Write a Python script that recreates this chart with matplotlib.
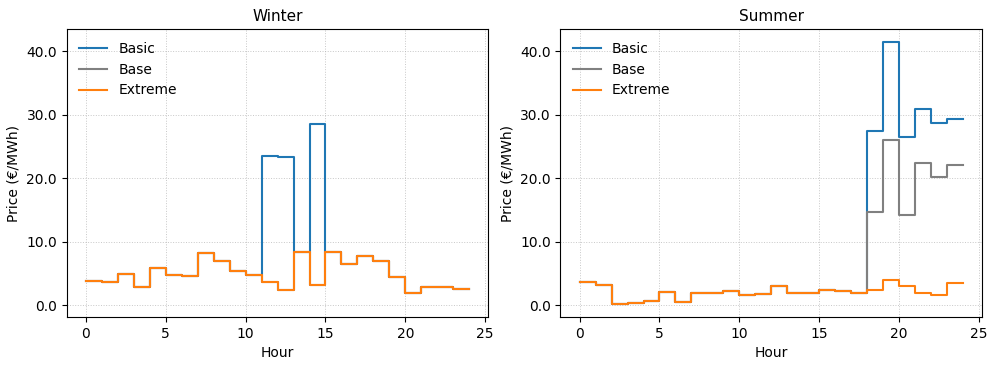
import matplotlib.pyplot as plt

hours = list(range(25))

winter_extreme = [3.77, 3.66, 4.97, 2.93, 5.81, 4.82, 4.61, 8.22, 6.96, 5.39, 4.71, 3.61,
                  2.36, 8.38, 3.19, 8.43, 6.49, 7.80, 7.02, 4.45, 1.94, 2.93, 2.93, 2.57]
winter_base = list(winter_extreme)
winter_basic = list(winter_extreme)
winter_basic[11] = 23.56
winter_basic[12] = 23.35
winter_basic[14] = 28.53

summer_extreme = [3.72, 3.20, 0.16, 0.31, 0.73, 2.04, 0.47, 1.94, 1.94, 2.20, 1.63, 1.83,
                  3.09, 1.94, 1.89, 2.41, 2.20, 1.89, 2.46, 4.04, 2.99, 1.94, 1.63, 3.46]
summer_base = summer_extreme[:18] + [14.63, 26.05, 14.15, 22.39, 20.18, 22.07]
summer_basic = summer_extreme[:18] + [27.52, 41.47, 26.47, 30.98, 28.73, 29.36]

seasons = [("Winter", winter_basic, winter_base, winter_extreme),
           ("Summer", summer_basic, summer_base, summer_extreme)]

def step(ax, vals, **kw):
    ax.step(hours, vals + [vals[-1]], where='post', linewidth=1.5, **kw)

fig, axes = plt.subplots(1, 2, figsize=(9.97, 3.68), dpi=100, sharey=True)
for ax, (title, basic, base, extreme) in zip(axes, seasons):
    step(ax, basic, color='#1f77b4', label='Basic')
    step(ax, base, color='grey', label='Base')
    step(ax, extreme, color='#ff7f0e', label='Extreme')
    ax.set_title(title, fontsize=11)
    ax.set_xlabel('Hour')
    ax.set_ylabel('Price (€/MWh)')
    ax.grid(True, linestyle=':', linewidth=0.7, alpha=0.7)
    ax.legend(loc='upper left', frameon=False)
    ax.tick_params(labelleft=True)
    ax.yaxis.set_major_formatter(plt.FormatStrFormatter('%.1f'))
    ax.set_xticks([0, 5, 10, 15, 20, 25])

fig.subplots_adjust(left=0.067, right=0.985, top=0.921, bottom=0.138, wspace=0.171)
fig.savefig('out.png')
